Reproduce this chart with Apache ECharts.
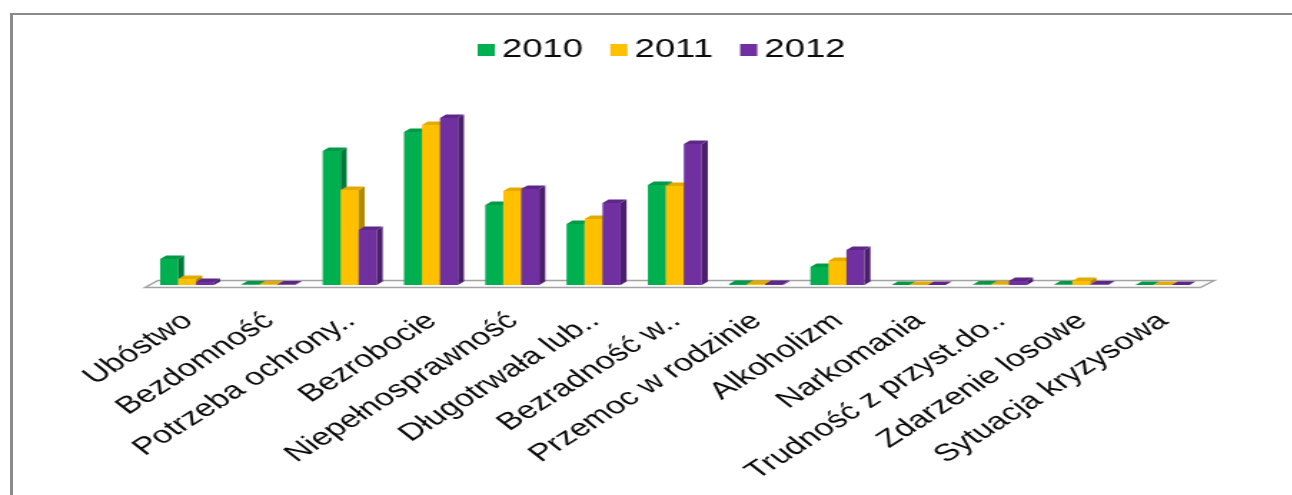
<!DOCTYPE html>
<html>
<head>
<meta charset="utf-8">
<script src="https://cdn.jsdelivr.net/npm/echarts@6/dist/echarts.min.js"></script>
<style>
  html, body { margin: 0; padding: 0; background: #ffffff; overflow: hidden; }
  #frame { position: absolute; left: 10px; top: 13px; width: 1400px; height: 600px;
           border-left: 3px solid #8a8a8a; border-top: 2px solid #8a8a8a; }
  #chart { position: absolute; left: 0; top: 0; width: 904px; height: 495px;
           transform: scaleX(1.43); transform-origin: 0 0; }
</style>
</head>
<body>
<div id="frame"></div>
<div id="chart"></div>
<script>
const categories = ['Ubóstwo', 'Bezdomność', 'Potrzeba ochrony..', 'Bezrobocie', 'Niepełnosprawność',
  'Długotrwała lub..', 'Bezradność w..', 'Przemoc w rodzinie', 'Alkoholizm', 'Narkomania',
  'Trudność z przyst.do..', 'Zdarzenie losowe', 'Sytuacja kryzysowa'];
const years = ['2010', '2011', '2012'];
const values2010 = [26, 0.5, 134, 153, 80, 61, 100, 1, 18, 0, 0.5, 0.5, 0];
const values2011 = [6, 0.5, 95, 160, 94, 66, 99, 1, 24, 0, 0.5, 4, 0];
const values2012 = [3, 0.5, 55, 167, 96, 82, 141, 1, 35, 0, 4, 0.5, 0];

const seriesValues = [values2010, values2011, values2012];
const palettes = [
  { front: '#00B050', side: '#00783a', top: '#009a46' },
  { front: '#FFC000', side: '#b38700', top: '#e3aa00' },
  { front: '#7030A0', side: '#4a1f6b', top: '#5c2787' }
];

function barRenderer(si) {
  const pal = palettes[si];
  return function (params, api) {
    const idx = api.value(0), v = api.value(1);
    const base = api.coord([idx, 0]);
    const top = api.coord([idx, v]);
    const band = api.size([1, 0])[0];
    const w = band * 0.2215;
    const dx = band * 0.074, dy = 3.5;
    const x = base[0] - 1.5 * w + si * w;
    const y0 = base[1], y1 = top[1];
    return {
      type: 'group',
      children: [
        { type: 'rect', shape: { x: x, y: y1, width: w, height: y0 - y1 }, style: { fill: pal.front } },
        { type: 'polygon', shape: { points: [[x + w, y1], [x + w + dx, y1 - dy], [x + w + dx, y0 - dy], [x + w, y0]] }, style: { fill: pal.side } },
        { type: 'polygon', shape: { points: [[x, y1], [x + dx, y1 - dy], [x + w + dx, y1 - dy], [x + w, y1]] }, style: { fill: pal.top } }
      ]
    };
  };
}

function floorRenderer(params, api) {
  const cs = params.coordSys;
  const y0 = api.coord([0, 0])[1];
  const l = cs.x, r = cs.x + cs.width;
  return {
    type: 'polygon',
    shape: { points: [[l - 1, y0 + 2.5], [r - 2, y0 + 2.5], [r + 7.7, y0 - 4.5], [l + 8, y0 - 4.5]] },
    style: { fill: '#fbfbfb', stroke: '#a3a3a3', lineWidth: 1.5 }
  };
}

const chart = echarts.init(document.getElementById('chart'));
const series = [{
  type: 'custom',
  name: 'floor',
  renderItem: floorRenderer,
  data: [[0, 0]],
  encode: { x: 0, y: 1 },
  silent: true,
  z: 1
}];
years.forEach(function (y, si) {
  series.push({
    type: 'custom',
    name: y,
    renderItem: barRenderer(si),
    data: seriesValues[si].map(function (v, i) { return [i, v]; }),
    encode: { x: 0, y: 1 },
    itemStyle: { color: palettes[si].front },
    z: 2 + si
  });
});

chart.setOption({
  animation: false,
  backgroundColor: 'transparent',
  legend: {
    data: years,
    left: 334,
    top: 37,
    padding: 0,
    itemGap: 19,
    itemWidth: 12,
    itemHeight: 12,
    icon: 'rect',
    textStyle: { fontFamily: 'Liberation Sans', fontSize: 25.5, color: '#0a0a0a' }
  },
  grid: { left: 102.4, right: 62.6, top: 100, bottom: 210, containLabel: false, outerBoundsMode: 'none' },
  xAxis: {
    type: 'category',
    data: categories,
    axisLine: { show: false },
    axisTick: { show: false },
    axisLabel: {
      interval: 0,
      rotate: 42,
      margin: 17,
      padding: [0, 10, 0, 0],
      align: 'right',
      verticalAlign: 'top',
      fontFamily: 'Liberation Sans',
      fontSize: 24,
      color: '#0a0a0a'
    }
  },
  yAxis: {
    type: 'value',
    min: 0,
    max: 185,
    show: false,
    splitLine: { show: false }
  },
  series: series
});
</script>
</body>
</html>
